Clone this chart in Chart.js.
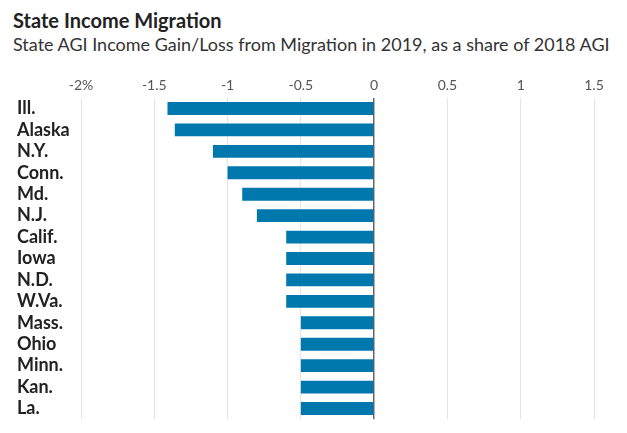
<!DOCTYPE html>
<html>
<head>
<meta charset="utf-8">
<script src="https://cdn.jsdelivr.net/npm/chart.js@4.4.1/dist/chart.umd.min.js"></script>
<style>
  html, body { margin: 0; padding: 0; background: #fff; }
  #wrap { position: relative; width: 627px; height: 433px; }
  #title { position: absolute; left: 13px; top: 8px; font: bold 20px Lato, sans-serif; color: #222; white-space: nowrap; }
  #subtitle { position: absolute; left: 13px; top: 33px; font: 18px Lato, sans-serif; color: #333; white-space: nowrap; }
  canvas { position: absolute; left: 0; top: 0; }
</style>
</head>
<body>
<div id="wrap">
  <div id="title">State Income Migration</div>
  <div id="subtitle">State AGI Income Gain/Loss from Migration in 2019, as a share of 2018 AGI</div>
  <canvas id="chart" width="627" height="433"></canvas>
</div>
<script>
// states, ordered as in the chart (top to bottom)
const states = ['Ill.', 'Alaska', 'N.Y.', 'Conn.', 'Md.', 'N.J.', 'Calif.', 'Iowa', 'N.D.', 'W.Va.', 'Mass.', 'Ohio', 'Minn.', 'Kan.', 'La.'];
// AGI gain/loss as % of 2018 AGI
const agiShare = [-1.41, -1.36, -1.10, -1.00, -0.90, -0.80, -0.60, -0.60, -0.60, -0.60, -0.50, -0.50, -0.50, -0.50, -0.50];
const xTicks = [-2, -1.5, -1, -0.5, 0, 0.5, 1, 1.5];

const ctx = document.getElementById('chart').getContext('2d');
new Chart(ctx, {
    type: 'bar',
    data: {
        labels: states,
        datasets: [{
            data: agiShare,
            backgroundColor: '#0077ad',
            barPercentage: 0.6,
            categoryPercentage: 1
        }]
    },
    options: {
        indexAxis: 'y',
        responsive: false,
        animation: false,
        layout: { padding: { top: 73, left: 17, right: 33, bottom: 2 } },
        plugins: { legend: { display: false }, tooltip: { enabled: false } },
        scales: {
            x: {
                position: 'top',
                min: -2, max: 1.5,
                afterBuildTicks: (axis) => { axis.ticks = xTicks.map(v => ({ value: v })); },
                ticks: {
                    padding: 4,
                    color: '#555',
                    font: { family: 'Lato', size: 14 },
                    callback: (v) => v === -2 ? '-2%' : String(v)
                },
                grid: {
                    drawTicks: false,
                    color: (c) => c.tick && c.tick.value === 0 ? '#666' : '#e4e4e4',
                    lineWidth: (c) => c.tick && c.tick.value === 0 ? 1.5 : 1
                },
                border: { display: false }
            },
            y: {
                afterFit: (axis) => { axis.width = 64; },
                ticks: {
                    autoSkip: false,
                    crossAlign: 'far',
                    color: '#222',
                    font: { family: 'Lato', size: 18, weight: 'bold' }
                },
                grid: { display: false },
                border: { display: false }
            }
        }
    }
});
</script>
</body>
</html>
